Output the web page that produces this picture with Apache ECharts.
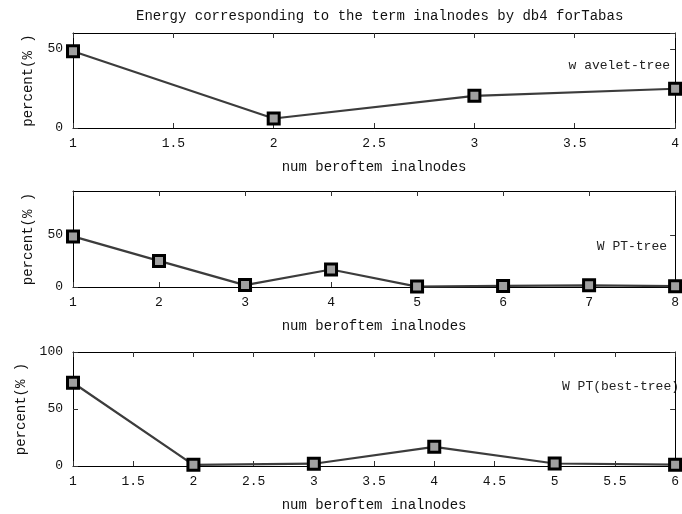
<!DOCTYPE html>
<html>
<head>
<meta charset="utf-8">
<script src="https://cdn.jsdelivr.net/npm/echarts@6/dist/echarts.min.js"></script>
<style>html,body{margin:0;padding:0;background:#fff}#c{width:682px;height:514px}</style>
</head>
<body>
<div id="c"></div>
<script>
// ---- data ----
const titleText = 'Energy corresponding to the term inalnodes by db4 forTabas';
const xName = 'num beroftem inalnodes';
const yName = 'percent(% )';
const labels = ['w avelet-tree', 'W PT-tree', 'W PT(best-tree)'];

const x1 = [1, 2, 3, 4];
const v1 = [48.5, 6.0, 20.3, 24.8];

const x2 = [1, 2, 3, 4, 5, 6, 7, 8];
const v2 = [48.5, 25.0, 1.8, 16.8, 0.4, 1.0, 1.6, 0.8];

const x3 = [1, 2, 3, 4, 5, 6];
const v3 = [73.0, 1.0, 2.0, 16.8, 2.2, 1.2];

const xMin = [1, 1, 1], xMax = [4, 8, 6], xStep = [0.5, 1, 0.5];
const yMax = [60, 92, 100];

// ---- layout ----
const FONT = 'Liberation Mono';
const grids = [
  {left: 73, right: 5, top: 33, height: 95},
  {left: 73, right: 5, top: 191, height: 96},
  {left: 73, right: 5, top: 352, height: 114}
];
const xs = [x1, x2, x3], vs = [v1, v2, v3];

function common(i) {
  return {
    gridIndex: i,
    axisLine: {show: true, onZero: false, lineStyle: {color: '#000', width: 1}},
    axisTick: {show: true, inside: true, length: 5, lineStyle: {color: '#333'}},
    splitLine: {show: false}
  };
}

const xAxis = [], yAxis = [], series = [];
grids.forEach((g, i) => {
  xAxis.push(Object.assign(common(i), {
    type: 'value', position: 'bottom', min: xMin[i], max: xMax[i], interval: xStep[i],
    name: xName, nameLocation: 'middle', nameGap: 32,
    nameTextStyle: {fontFamily: FONT, fontSize: 14, color: '#111'},
    axisLabel: {fontFamily: FONT, fontSize: 13, color: '#111', margin: 9}
  }));
  xAxis.push(Object.assign(common(i), {
    type: 'value', position: 'top', min: xMin[i], max: xMax[i], interval: xStep[i],
    axisLabel: {show: false}
  }));
  yAxis.push(Object.assign(common(i), {
    type: 'value', position: 'left', min: 0, max: yMax[i], interval: 50,
    name: yName, nameLocation: 'middle', nameGap: 38, nameRotate: 90,
    nameTextStyle: {fontFamily: FONT, fontSize: 14, color: '#111'},
    axisLabel: {fontFamily: FONT, fontSize: 13, color: '#111', margin: 10,
      showMaxLabel: yMax[i] % 50 === 0}
  }));
  yAxis.push(Object.assign(common(i), {
    type: 'value', position: 'right', min: 0, max: yMax[i], interval: 50,
    axisLabel: {show: false}
  }));
  series.push({
    type: 'line',
    xAxisIndex: i * 2, yAxisIndex: i * 2,
    data: xs[i].map((x, k) => [x, vs[i][k]]),
    symbol: 'rect', symbolSize: 11,
    lineStyle: {color: '#3c3c3c', width: 2.2},
    itemStyle: {color: '#a0a0a0', borderColor: '#000', borderWidth: 3},
    clip: false, animation: false, z: 3
  });
});

const labelY = [67, 248, 388];
const labelRight = [670, 667, 679];
const graphic = labels.map((t, i) => ({
  type: 'text', right: 682 - labelRight[i], top: labelY[i] - 8,
  style: {text: t, fontFamily: FONT, fontSize: 13, fill: '#222'}
}));

const chart = echarts.init(document.getElementById('c'));
chart.setOption({
  backgroundColor: '#fff',
  animation: false,
  title: {text: titleText, left: 131, top: 4,
    textStyle: {fontFamily: FONT, fontSize: 14, fontWeight: 'normal', color: '#111'}},
  grid: grids,
  xAxis: xAxis,
  yAxis: yAxis,
  series: series,
  graphic: graphic
});
</script>
</body>
</html>
